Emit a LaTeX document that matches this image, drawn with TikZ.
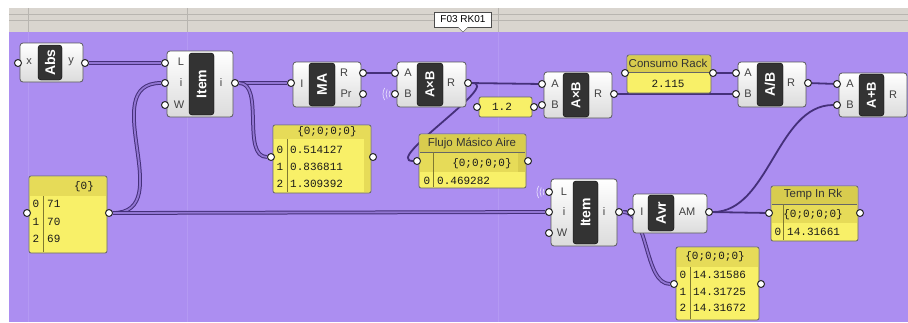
\documentclass[tikz,border=0pt]{standalone}
\usepackage{fontspec}
\setmainfont{Liberation Sans}
\setmonofont{Liberation Mono}
\definecolor{canvas}{HTML}{AC8EF1}
\definecolor{band}{HTML}{D9D5CF}
\definecolor{wirecol}{HTML}{45307A}
\definecolor{panelbg}{HTML}{F8F068}
\definecolor{panelhead}{HTML}{E6DB58}
\definecolor{paneltitle}{HTML}{D8CC4E}
\pgfdeclarelayer{back}
\pgfdeclarelayer{wires}
\pgfsetlayers{back,wires,main}

\begin{document}
\begin{tikzpicture}[x=1pt, y=-1pt,
  comp/.style={draw=black!65, line width=0.8pt, rounded corners=3pt, top color=white, bottom color=black!14, inner sep=0pt},
  core/.style={draw=black, fill=black!80, rounded corners=3pt, inner sep=0pt},
  coretxt/.style={text=white, font=\fontsize{14}{14}\selectfont\bfseries, rotate=90, inner sep=0pt},
  lbl/.style={font=\fontsize{11}{11}\selectfont, text=black!75, inner sep=0pt},
  port/.style={circle, draw=black!85, fill=white, line width=1pt, inner sep=0pt, minimum size=7pt},
  panel/.style={draw=black!60, fill=panelbg, rounded corners=2pt, line width=0.8pt, inner sep=0pt},
  pline/.style={draw=black!45!panelhead, line width=0.6pt},
  ptxt/.style={font=\ttfamily\fontsize{11}{11}\selectfont, text=black!90, inner sep=0pt},
  htxt/.style={font=\fontsize{11.5}{12}\selectfont, text=black!80, inner sep=0pt},
  wire/.style={draw=wirecol, line width=1.8pt},
  dwire/.style={draw=wirecol, line width=1pt, double=canvas!75!wirecol, double distance=1.8pt},
  waves/.style={draw=white!70!canvas, line width=0.7pt},
]
\useasboundingbox (0,0) rectangle (908,322);

% background
\begin{pgfonlayer}{back}
  \fill[white] (0,0) rectangle (908,322);
  \fill[band] (9,8) rectangle (908,32);
  \draw[band!85!black, line width=0.4pt] (9,14) -- (908,14) (9,20) -- (908,20);
  \fill[canvas] (9,32) rectangle (908,322);
  \foreach \gx in {28,187,498} {
    \draw[band!85!black, line width=0.4pt] (\gx,8) -- (\gx,32);
    \draw[canvas!90!white, line width=0.6pt] (\gx,32) -- (\gx,322);
  }
\end{pgfonlayer}

% tooltip
\node[draw=black!70, fill=white, minimum width=57, minimum height=15, inner sep=0pt, font=\fontsize{10}{10}\selectfont] (tip) at (463,19.5) {F03 RK01};
\draw[black!70, fill=white] ([xshift=-5pt]tip.south) -- ++(5,5) -- ([xshift=5pt]tip.south);

% Abs
\node[comp, minimum width=63, minimum height=39] (abs) at (51.5,62.5) {};
\node[core, minimum width=24, minimum height=35] (abs-core) at (50,62.5) {};
\node[coretxt] (abs-t) at (abs-core) {Abs};
\node[lbl] (abs-lx) at (29,62) {x};
\node[lbl] (abs-ly) at (71,62) {y};
\node[port] (abs-x) at (18,63) {};
\node[port] (abs-y) at (85,63) {};

% Item (top)
\node[comp, minimum width=66, minimum height=66] (itemA) at (200,84) {};
\node[core, minimum width=25, minimum height=62] (itemA-core) at (201.5,84) {};
\node[coretxt] (itemA-t) at (itemA-core) {Item};
\node[lbl] (itemA-lL) at (181,62) {L};
\node[lbl] (itemA-li) at (181,83) {i};
\node[lbl] (itemA-lW) at (179,105) {W};
\node[lbl] (itemA-lo) at (221,83) {i};
\node[port] (itemA-L) at (165,63) {};
\node[port] (itemA-i) at (165,83) {};
\node[port] (itemA-W) at (165,105) {};
\node[port] (itemA-o) at (235,83) {};

% MA
\node[comp, minimum width=68, minimum height=45] (ma) at (327,84.5) {};
\node[core, minimum width=26, minimum height=43] (ma-core) at (322,84.5) {};
\node[coretxt] (ma-t) at (ma-core) {MA};
\node[lbl] (ma-lI) at (302,84) {I};
\node[lbl] (ma-lR) at (344,73) {R};
\node[lbl] (ma-lP) at (346,94) {Pr};
\node[port] (ma-I) at (291,83) {};
\node[port] (ma-R) at (363,73) {};
\node[port] (ma-Pr) at (363,94) {};

% panel: item output
\node[panel, minimum width=98, minimum height=68] (pnlA) at (322,159) {};
\fill[panelhead] (274,126) rectangle (370,139);
\fill[panelhead] (364,139) rectangle (370,192);
\draw[pline] (287,139) -- (287,192);
\node[ptxt] (pnlA-h) at (327,132) {\{0;0;0;0\}};
\foreach \yy/\k/\v in {150/0/0.514127, 167/1/0.836811, 184/2/1.309392} {
  \node[ptxt] (pnlA-i\k) at (280,\yy) {\k};
  \node[ptxt, anchor=west] (pnlA-v\k) at (290,\yy) {\v};
}
\node[port] (pnlA-in) at (271,157) {};
\node[port] (pnlA-out) at (373,157) {};

% A x B (first)
\node[comp, minimum width=69, minimum height=45] (mulA) at (431.5,84.5) {};
\node[core, minimum width=26, minimum height=43] (mulA-core) at (430,84.5) {};
\node[coretxt, font=\fontsize{13}{13}\selectfont\bfseries] (mulA-t) at (mulA-core) {A×B};
\node[lbl] (mulA-lA) at (408,73) {A};
\node[lbl] (mulA-lB) at (408,94) {B};
\node[lbl] (mulA-lR) at (451,83) {R};
\node[port] (mulA-A) at (395,73) {};
\node[port] (mulA-B) at (395,94) {};
\node[port] (mulA-R) at (468,83) {};
\foreach \r in {6,9,12} \draw[waves] (mulA-B) ++(150:\r) arc (150:210:\r);

% panel 1.2
\node[panel, minimum width=53, minimum height=20] (cst) at (505.5,107) {};
\node[ptxt] (cst-t) at (502,107) {1.2};
\node[port] (cst-in) at (477,107) {};
\node[port] (cst-out) at (534,107) {};

% A x B (second)
\node[comp, minimum width=68, minimum height=46] (mulB) at (578,95) {};
\node[core, minimum width=26, minimum height=44] (mulB-core) at (576,95) {};
\node[coretxt, font=\fontsize{13}{13}\selectfont\bfseries] (mulB-t) at (mulB-core) {A×B};
\node[lbl] (mulB-lA) at (555,84) {A};
\node[lbl] (mulB-lB) at (555,105) {B};
\node[lbl] (mulB-lR) at (598,94) {R};
\node[port] (mulB-A) at (542,84) {};
\node[port] (mulB-B) at (542,105) {};
\node[port] (mulB-R) at (614,94) {};

% panel: Flujo Masico Aire
\node[panel, minimum width=107, minimum height=54] (flujo) at (472.5,161) {};
\fill[paneltitle] (420,135) rectangle (525,152);
\fill[panelhead] (420,152) rectangle (525,172);
\fill[paneltitle] (518,152) rectangle (525,172);
\draw[black!60, line width=0.8pt] (420,152) -- (525,152);
\draw[pline] (433,152) -- (433,187);
\node[htxt] (flujo-h) at (472,143) {Flujo Másico Aire};
\node[ptxt] (flujo-s) at (482,164) {\{0;0;0;0\}};
\node[ptxt] (flujo-i0) at (427,181) {0};
\node[ptxt, anchor=west] (flujo-v0) at (437,181) {0.469282};
\node[port] (flujo-in) at (417,161) {};
\node[port] (flujo-out) at (528,161) {};

% panel: Consumo Rack
\node[panel, minimum width=84, minimum height=38] (cons) at (669,74) {};
\fill[paneltitle] (628,56) rectangle (710,72);
\draw[black!60, line width=0.8pt] (628,72) -- (710,72);
\node[htxt] (cons-h) at (668,63.5) {Consumo Rack};
\node[ptxt] (cons-v) at (668,84) {2.115};
\node[port] (cons-in) at (625,73) {};
\node[port] (cons-out) at (713,73) {};

% A / B
\node[comp, minimum width=68, minimum height=45] (div) at (772,84.5) {};
\node[core, minimum width=26, minimum height=43] (div-core) at (770,84.5) {};
\node[coretxt] (div-t) at (div-core) {A/B};
\node[lbl] (div-lA) at (748,73) {A};
\node[lbl] (div-lB) at (748,94) {B};
\node[lbl] (div-lR) at (791,83) {R};
\node[port] (div-A) at (736,73) {};
\node[port] (div-B) at (736,94) {};
\node[port] (div-R) at (808,83) {};

% A + B
\node[comp, minimum width=68, minimum height=44] (add) at (873,95) {};
\node[core, minimum width=25, minimum height=42] (add-core) at (871.5,95) {};
\node[coretxt, font=\fontsize{13}{13}\selectfont\bfseries] (add-t) at (add-core) {A+B};
\node[lbl] (add-lA) at (850,84) {A};
\node[lbl] (add-lB) at (850,105) {B};
\node[lbl] (add-lR) at (893,95) {R};
\node[port] (add-A) at (837,84) {};
\node[port] (add-B) at (837,105) {};

% panel: list {0}
\node[panel, minimum width=78, minimum height=77] (lst) at (68,214.5) {};
\fill[panelhead] (30,177) rectangle (106,196);
\draw[pline] (43,196) -- (43,252);
\node[ptxt] (lst-h) at (84,187) {\{0\}};
\foreach \yy/\k/\v in {204/0/71, 222/1/70, 239/2/69} {
  \node[ptxt] (lst-i\k) at (36,\yy) {\k};
  \node[ptxt, anchor=west] (lst-v\k) at (47,\yy) {\v};
}
\node[port] (lst-in) at (27,213) {};
\node[port] (lst-out) at (109,213) {};

% Item (bottom)
\node[comp, minimum width=66, minimum height=67] (itemB) at (584,212.5) {};
\node[core, minimum width=25, minimum height=63] (itemB-core) at (585.5,212.5) {};
\node[coretxt] (itemB-t) at (itemB-core) {Item};
\node[lbl] (itemB-lL) at (564,192) {L};
\node[lbl] (itemB-li) at (564,212) {i};
\node[lbl] (itemB-lW) at (562,233) {W};
\node[lbl] (itemB-lo) at (604,212) {i};
\node[port] (itemB-L) at (549,192) {};
\node[port] (itemB-i) at (549,212) {};
\node[port] (itemB-W) at (549,233) {};
\node[port] (itemB-o) at (619,212) {};
\foreach \r in {6,9,12} \draw[waves] (itemB-L) ++(150:\r) arc (150:210:\r);

% Avr
\node[comp, minimum width=74, minimum height=39] (avr) at (670,213.5) {};
\node[core, minimum width=26, minimum height=36] (avr-core) at (661,213) {};
\node[coretxt] (avr-t) at (avr-core) {Avr};
\node[lbl] (avr-lI) at (642,212) {I};
\node[lbl] (avr-lO) at (687,212) {AM};
\node[port] (avr-I) at (631,212) {};
\node[port] (avr-O) at (709,212) {};

% panel: Temp In Rk
\node[panel, minimum width=87, minimum height=55] (temp) at (814.5,213.5) {};
\fill[paneltitle] (772,187) rectangle (857,204);
\fill[panelhead] (772,204) rectangle (857,223);
\draw[black!60, line width=0.8pt] (772,204) -- (857,204);
\draw[pline] (783,204) -- (783,240);
\node[htxt] (temp-h) at (813,194.5) {Temp In Rk};
\node[ptxt] (temp-s) at (813,215) {\{0;0;0;0\}};
\node[ptxt] (temp-i0) at (778,232) {0};
\node[ptxt, anchor=west] (temp-v0) at (787,232) {14.31661};
\node[port] (temp-in) at (769,213) {};
\node[port] (temp-out) at (860,213) {};

% panel: avr output
\node[panel, minimum width=83, minimum height=73] (pnlB) at (717.5,283.5) {};
\fill[panelhead] (677,248) rectangle (758,267);
\draw[pline] (690,267) -- (690,319);
\node[ptxt] (pnlB-h) at (715,257) {\{0;0;0;0\}};
\foreach \yy/\k/\v in {275/0/14.31586, 292/1/14.31725, 308/2/14.31672} {
  \node[ptxt] (pnlB-i\k) at (683,\yy) {\k};
  \node[ptxt, anchor=west] (pnlB-v\k) at (693,\yy) {\v};
}
\node[port] (pnlB-in) at (674,284) {};
\node[port] (pnlB-out) at (761,284) {};

% wires
\begin{pgfonlayer}{wires}
  \draw[dwire] (abs-y) -- (itemA-L);
  \draw[dwire] (itemA-o) -- (ma-I);
  \draw[dwire] (itemA-o) .. controls +(30,0) and +(-30,0) .. (pnlA-in);
  \draw[dwire] (lst-out) .. controls +(70,0) and +(-70,0) .. (itemA-i);
  \draw[dwire] (lst-out) -- (itemB-i);
  \draw[wire] (ma-R) -- (mulA-A);
  \draw[wire] (mulA-R) -- (mulB-A);
  \draw[wire] (mulA-R) .. controls +(35,0) and +(-35,0) .. (flujo-in);
  \draw[wire] (cst-out) -- (mulB-B);
  \draw[wire] (mulB-R) -- (div-B);
  \draw[wire] (cons-out) -- (div-A);
  \draw[wire] (div-R) -- (add-A);
  \draw[dwire] (itemB-o) -- (avr-I);
  \draw[dwire] (itemB-o) .. controls +(30,0) and +(-30,0) .. (pnlB-in);
  \draw[wire] (avr-O) -- (temp-in);
  \draw[wire] (avr-O) .. controls +(60,0) and +(-60,0) .. (add-B);
\end{pgfonlayer}
\end{tikzpicture}
\end{document}
